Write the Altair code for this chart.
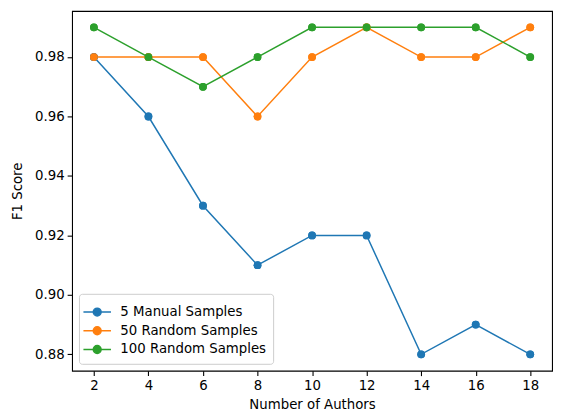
import altair as alt
import pandas as pd

authors = [2, 4, 6, 8, 10, 12, 14, 16, 18]
manual5 = [0.98, 0.96, 0.93, 0.91, 0.92, 0.92, 0.88, 0.89, 0.88]
random50 = [0.98, 0.98, 0.98, 0.96, 0.98, 0.99, 0.98, 0.98, 0.99]
random100 = [0.99, 0.98, 0.97, 0.98, 0.99, 0.99, 0.99, 0.99, 0.98]
series_names = ["5 Manual Samples", "50 Random Samples", "100 Random Samples"]
colors = ["#1f77b4", "#ff7f0e", "#2ca02c"]

rows = []
for name, vals in zip(series_names, [manual5, random50, random100]):
    for a, v in zip(authors, vals):
        rows.append({"authors": a, "f1": v, "series": name})
df = pd.DataFrame(rows)

FONT = "DejaVu Sans"
x = alt.X("authors:Q", title="Number of Authors",
          scale=alt.Scale(domain=[1.2, 18.8], nice=False, zero=False),
          axis=alt.Axis(values=[2, 4, 6, 8, 10, 12, 14, 16, 18], grid=False, format="d"))
y = alt.Y("f1:Q", title="F1 Score",
          scale=alt.Scale(domain=[0.8745, 0.9955], nice=False, zero=False),
          axis=alt.Axis(values=[0.88, 0.90, 0.92, 0.94, 0.96, 0.98], grid=False, format=".2f"))
color = alt.Color("series:N", scale=alt.Scale(domain=series_names, range=colors),
                  sort=series_names,
                  legend=alt.Legend(title=None, orient="bottom-left", offset=7,
                                    symbolType="M-1.33,0L1.33,0M-0.38,0A0.38,0.38,0,1,0,0.38,0A0.38,0.38,0,1,0,-0.38,0Z",
                                    symbolSize=441, symbolStrokeWidth=1.5,
                                    labelFont=FONT, labelFontSize=13.5, labelColor="#000",
                                    labelOffset=12, rowPadding=0,
                                    strokeColor="#cccccc", fillColor="rgba(255,255,255,0.8)",
                                    cornerRadius=3, padding=7))

points = alt.Chart(df).mark_point(filled=True, size=62, opacity=1).encode(x=x, y=y, color=color)
lines = alt.Chart(df).mark_line(strokeWidth=1.5).encode(x=x, y=y, color=color, detail="series:N")

chart = alt.layer(points, lines, points).properties(
    width=487, height=365,
    autosize=alt.AutoSizeParams(type="none"),
    padding={"left": 65, "top": 0, "right": 4, "bottom": 45},
).configure_view(stroke="#000", strokeWidth=1.1).configure_axis(
    labelFont=FONT, labelFontSize=13.5, labelColor="#000",
    titleFont=FONT, titleFontSize=13.5, titleColor="#000", titleFontWeight="normal",
    domain=False, tickColor="#000", tickSize=5, tickWidth=1.1, labelPadding=3,
).configure_axisY(titlePadding=10).configure_axisX(titlePadding=6)

chart.save("out.html", embed_options={"renderer": "svg", "actions": False})
